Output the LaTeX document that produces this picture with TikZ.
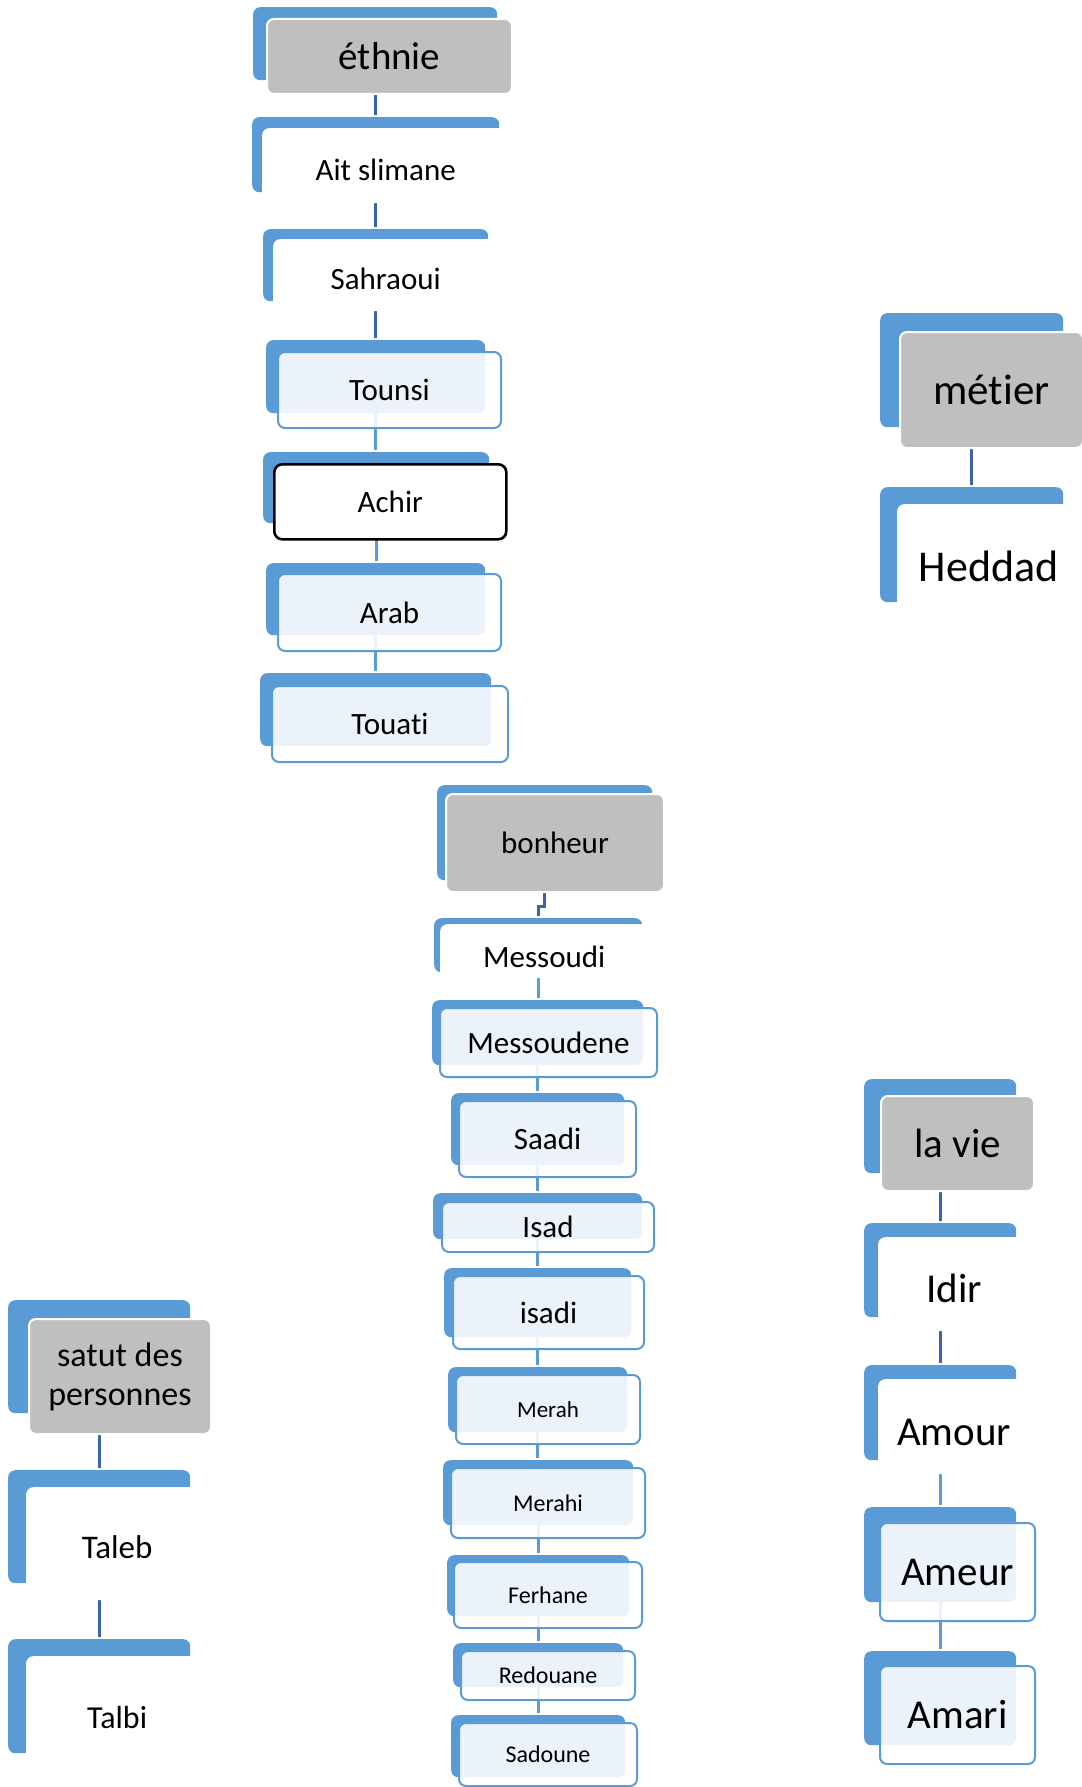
\documentclass[tikz,border=0pt]{standalone}
\usepackage{fontspec}
\setmainfont[Ligatures=NoCommon]{Carlito}
\usetikzlibrary{positioning}
\definecolor{accblue}{HTML}{5B9BD5}
\definecolor{lnkdark}{HTML}{3B62AE}
\definecolor{hdgray}{HTML}{BFBFBF}
\tikzstyle{back} = [rectangle, rounded corners=7pt, fill=accblue, anchor=north west, inner sep=0pt]
\tikzstyle{link} = [line width=2.7pt, shorten >=2pt]
\pgfdeclarelayer{background}
\pgfsetlayers{background,main}

\begin{document}
\begin{tikzpicture}[x=1pt, y=-1pt]
\tikzset{%
	head/.style = {rectangle, rounded corners=7pt, fill=hdgray, draw=white, line width=2pt, inner sep=0pt},
	plain/.style = {rectangle, rounded corners=7pt, fill=white, inner sep=0pt, text depth=0pt, text height=#1},
	pale/.style = {rectangle, rounded corners=7pt, fill=white, fill opacity=0.88, text opacity=1, draw=accblue, line width=2pt, inner sep=0pt},
	boxed/.style = {rectangle, rounded corners=8pt, fill=white, draw=black, line width=2.6pt, inner sep=0pt},
	fs/.style = {font=\fontsize{#1}{#1}\selectfont}
}
\useasboundingbox (0,0) rectangle (1081,1787);

% ethnie
\node(et1b) [back, minimum width=244pt, minimum height=73pt] at (253,7) {};
\node(et1) [head, fs=39, minimum width=245pt, minimum height=75pt, below right=11pt and 13pt of et1b.north west] {éthnie};

\node(et2b) [back, minimum width=247pt, minimum height=75pt] at (252,117) {};
\node(et2) [plain=29pt, fs=31, minimum width=247pt, minimum height=75pt, below right=11pt and 10pt of et2b.north west] {Ait slimane};

\node(et3b) [back, minimum width=225pt, minimum height=72pt] at (263,229) {};
\node(et3) [plain=29pt, fs=31, minimum width=225pt, minimum height=72pt, below right=10pt and 10pt of et3b.north west] {Sahraoui};

\node(et4b) [back, minimum width=219pt, minimum height=73pt] at (266,340) {};
\node(et4) [pale, fs=31, minimum width=223pt, minimum height=76pt, below right=11pt and 11pt of et4b.north west] {Tounsi};

\node(et5b) [back, minimum width=226pt, minimum height=71pt] at (263,452) {};
\node(et5) [boxed, fs=31, minimum width=232pt, minimum height=75pt, below right=11pt and 10pt of et5b.north west] {Achir};

\node(et6b) [back, minimum width=219pt, minimum height=72pt] at (266,563) {};
\node(et6) [pale, fs=31, minimum width=223pt, minimum height=77pt, below right=10pt and 11pt of et6b.north west] {Arab};

\node(et7b) [back, minimum width=231pt, minimum height=73pt] at (260,673) {};
\node(et7) [pale, fs=31, minimum width=236pt, minimum height=76pt, below right=12pt and 11pt of et7b.north west] {Touati};

% bonheur
\node(bo1b) [back, minimum width=215pt, minimum height=95pt] at (437,785) {};
\node(bo1) [head, fs=31, minimum width=218pt, minimum height=98pt, below right=8pt and 8pt of bo1b.north west] {bonheur};

\node(bo2b) [back, minimum width=208pt, minimum height=54pt] at (434,918) {};
\node(bo2) [plain=32pt, fs=31, minimum width=208pt, minimum height=54pt, below right=6pt and 6pt of bo2b.north west] {Messoudi};

\node(bo3b) [back, minimum width=211pt, minimum height=65pt] at (432,1000) {};
\node(bo3) [pale, fs=31, minimum width=217pt, minimum height=69pt, below right=7pt and 7pt of bo3b.north west] {Messoudene};

\node(bo4b) [back, minimum width=173pt, minimum height=72pt] at (451,1093) {};
\node(bo4) [pale, fs=31, minimum width=177pt, minimum height=76pt, below right=7pt and 7pt of bo4b.north west] {Saadi};

\node(bo5b) [back, minimum width=209pt, minimum height=46pt] at (433,1193) {};
\node(bo5) [pale, fs=31, minimum width=212pt, minimum height=50pt, below right=8pt and 8pt of bo5b.north west] {Isad};

\node(bo6b) [back, minimum width=187pt, minimum height=69pt] at (444,1268) {};
\node(bo6) [pale, fs=31, minimum width=191pt, minimum height=73pt, below right=7pt and 8pt of bo6b.north west] {isadi};

\node(bo7b) [back, minimum width=179pt, minimum height=65pt] at (448,1367) {};
\node(bo7) [pale, fs=23, minimum width=184pt, minimum height=69pt, below right=7pt and 7pt of bo7b.north west] {Merah};

\node(bo8b) [back, minimum width=190pt, minimum height=65pt] at (443,1460) {};
\node(bo8) [pale, fs=24, minimum width=194pt, minimum height=70pt, below right=7pt and 7pt of bo8b.north west] {Merahi};

\node(bo9b) [back, minimum width=182pt, minimum height=61pt] at (447,1555) {};
\node(bo9) [pale, fs=24, minimum width=188pt, minimum height=66pt, below right=6pt and 6pt of bo9b.north west] {Ferhane};

\node(bo10b) [back, minimum width=170pt, minimum height=44pt] at (453,1643) {};
\node(bo10) [pale, fs=24, minimum width=174pt, minimum height=49pt, below right=7pt and 7pt of bo10b.north west] {Redouane};

\node(bo11b) [back, minimum width=174pt, minimum height=62pt] at (451,1715) {};
\node(bo11) [pale, fs=24, minimum width=178pt, minimum height=63pt, below right=7pt and 7pt of bo11b.north west] {Sadoune};

% metier
\node(me1b) [back, minimum width=183pt, minimum height=114pt] at (880,313) {};
\node(me1) [head, fs=43, minimum width=183pt, minimum height=116pt, below right=18pt and 19pt of me1b.north west] {métier};

\node(me2b) [back, minimum width=183pt, minimum height=115pt] at (880,487) {};
\node(me2) [plain=40pt, fs=44, minimum width=183pt, minimum height=115pt, below right=17pt and 17pt of me2b.north west] {Heddad};

% satut des personnes
\node(sp1b) [back, minimum width=182pt, minimum height=113pt] at (8,1300) {};
\node(sp1) [head, font=\fontsize{34}{39}\selectfont, align=center, minimum width=182pt, minimum height=115pt, below right=18pt and 20pt of sp1b.north west] {satut des\\personnes};

\node(sp2b) [back, minimum width=182pt, minimum height=113pt] at (8,1470) {};
\node(sp2) [plain=30pt, fs=33, minimum width=182pt, minimum height=113pt, below right=17pt and 18pt of sp2b.north west] {Taleb};

\node(sp3b) [back, minimum width=182pt, minimum height=114pt] at (8,1639) {};
\node(sp3) [plain=30pt, fs=32, minimum width=182pt, minimum height=114pt, below right=17pt and 18pt of sp3b.north west] {Talbi};

% la vie
\node(lv1b) [back, minimum width=152pt, minimum height=94pt] at (864,1079) {};
\node(lv1) [head, fs=41, minimum width=153pt, minimum height=95pt, below right=16pt and 16pt of lv1b.north west] {la vie};

\node(lv2b) [back, minimum width=152pt, minimum height=94pt] at (864,1223) {};
\node(lv2) [plain=37pt, fs=41, minimum width=152pt, minimum height=94pt, below right=14pt and 14pt of lv2b.north west] {Idir};

\node(lv3b) [back, minimum width=152pt, minimum height=95pt] at (864,1365) {};
\node(lv3) [plain=38pt, fs=41, minimum width=152pt, minimum height=95pt, below right=14pt and 14pt of lv3b.north west] {Amour};

\node(lv4b) [back, minimum width=152pt, minimum height=95pt] at (864,1507) {};
\node(lv4) [pale, fs=41, minimum width=155pt, minimum height=98pt, below right=15pt and 15pt of lv4b.north west] {Ameur};

\node(lv5b) [back, minimum width=152pt, minimum height=94pt] at (864,1651) {};
\node(lv5) [pale, fs=41, minimum width=155pt, minimum height=98pt, below right=14pt and 15pt of lv5b.north west] {Amari};

\begin{pgfonlayer}{background}
\draw [link, lnkdark] (et1b.south) -- (et2b.north -| et1b.south);
\draw [link, lnkdark] (et2b.south) -- (et3b.north -| et2b.south);
\draw [link, lnkdark] (et3b.south) -- (et4b.north -| et3b.south);
\draw [link, accblue] (et4b.south) -- (et5b.north -| et4b.south);
\draw [link, accblue] (et5b.south) -- (et6b.north -| et5b.south);
\draw [link, accblue] (et6b.south) -- (et7b.north -| et6b.south);

\draw [link, lnkdark] (bo1b.south) -- ++(0,26) -| (bo2b.north);
\draw [link, accblue] (bo2b.south) -- (bo3b.north -| bo2b.south);
\draw [link, accblue] (bo3b.south) -- (bo4b.north -| bo3b.south);
\draw [link, accblue] (bo4b.south) -- (bo5b.north -| bo4b.south);
\draw [link, accblue] (bo5b.south) -- (bo6b.north -| bo5b.south);
\draw [link, accblue] (bo6b.south) -- (bo7b.north -| bo6b.south);
\draw [link, accblue] (bo7b.south) -- (bo8b.north -| bo7b.south);
\draw [link, accblue] (bo8b.south) -- (bo9b.north -| bo8b.south);
\draw [link, accblue] (bo9b.south) -- (bo10b.north -| bo9b.south);
\draw [link, accblue] (bo10b.south) -- (bo11b.north -| bo10b.south);

\draw [link, lnkdark] (me1b.south) -- (me2b.north -| me1b.south);

\draw [link, lnkdark] (sp1b.south) -- (sp2b.north -| sp1b.south);
\draw [link, lnkdark] (sp2b.south) -- (sp3b.north -| sp2b.south);

\draw [link, lnkdark] (lv1b.south) -- (lv2b.north -| lv1b.south);
\draw [link, lnkdark] (lv2b.south) -- (lv3b.north -| lv2b.south);
\draw [link, accblue] (lv3b.south) -- (lv4b.north -| lv3b.south);
\draw [link, accblue] (lv4b.south) -- (lv5b.north -| lv4b.south);
\end{pgfonlayer}
\end{tikzpicture}
\end{document}
